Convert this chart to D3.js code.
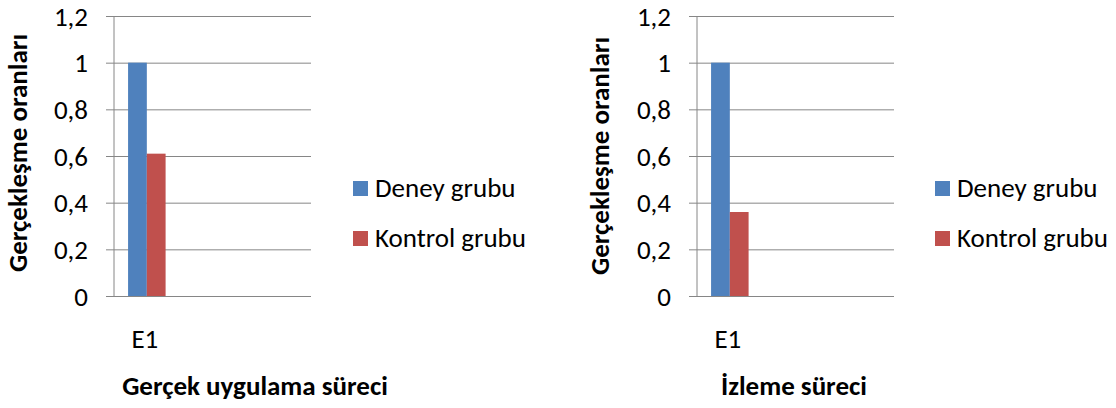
<!DOCTYPE html>
<html>
<head>
<meta charset="utf-8">
<script src="https://cdn.jsdelivr.net/npm/d3@7"></script>
<style>
  html, body { margin: 0; padding: 0; background: #fff; }
  svg { display: block; }
  text { font-family: Carlito, Lato, "Open Sans", sans-serif; fill: #000; }
</style>
</head>
<body>
<svg id="chart" width="1116" height="408"></svg>
<script>
// ---- data ----
const categories = ["E1"];
const seriesNames = ["Deney grubu", "Kontrol grubu"];
const seriesColors = ["#4F81BD", "#C0504D"];
const panelTitles = ["Gerçek uygulama süreci", "İzleme süreci"];
const panel1Values = [1.0, 0.61];   // Deney, Kontrol at E1
const panel2Values = [1.0, 0.36];   // Deney, Kontrol at E1
const yTickValues = [0, 0.2, 0.4, 0.6, 0.8, 1.0, 1.2];
const yTickLabels = ["0", "0,2", "0,4", "0,6", "0,8", "1", "1,2"];
const yAxisTitle = "Gerçekleşme oranları";

// ---- layout ----
const svg = d3.select("#chart");
const slotCount = 3;
const panels = [
  { x0: 114, values: panel1Values, title: panelTitles[0], titleX: 255, yTitleX: 27, yTitleY: 153, legendX: 353 },
  { x0: 697, values: panel2Values, title: panelTitles[1], titleX: 794, yTitleX: 609, yTitleY: 156, legendX: 935 }
];
const plotW = 197, plotTop = 16, plotBottom = 296;

panels.forEach(p => {
  const g = svg.append("g").attr("transform", `translate(${p.x0},0)`);
  const y = d3.scaleLinear().domain([0, 1.2]).range([plotBottom, plotTop]);
  const x = d3.scaleBand().domain(d3.range(slotCount)).range([0, plotW]).padding(0);
  const xs = d3.scaleBand().domain(seriesNames).range([0, x.bandwidth()])
    .paddingInner(0).paddingOuter(0.75);

  // gridlines + ticks
  const yAxis = d3.axisLeft(y).tickValues(yTickValues)
    .tickFormat((d, i) => yTickLabels[i]).tickSizeInner(-plotW).tickSizeOuter(0);
  const ga = g.append("g").call(yAxis);
  ga.attr("font-family", null).attr("font-size", null);
  ga.select(".domain").remove();
  ga.selectAll(".tick line").attr("x1", -8).attr("stroke", "#868686").attr("stroke-width", 1);
  ga.selectAll(".tick text").attr("x", -26).attr("dy", "0.34em")
    .style("font-size", "27px").attr("fill", "#000");

  // bars
  categories.forEach((c, ci) => {
    g.selectAll(null).data(seriesNames).enter().append("rect")
      .attr("x", s => x(ci) + xs(s))
      .attr("width", xs.bandwidth())
      .attr("y", (s, si) => y(p.values[si]))
      .attr("height", (s, si) => y(0) - y(p.values[si]))
      .attr("fill", (s, si) => seriesColors[si]);
    g.append("text").attr("x", x(ci) + x.bandwidth() / 2 - 2).attr("y", 348)
      .attr("text-anchor", "middle").style("font-size", "27px").text(c);
  });

  // vertical axis line
  g.append("line").attr("x1", 0).attr("x2", 0).attr("y1", plotTop).attr("y2", plotBottom)
    .attr("stroke", "#868686").attr("stroke-width", 1);

  // axis titles
  svg.append("text").attr("transform", `translate(${p.yTitleX},${p.yTitleY}) rotate(-90)`)
    .attr("text-anchor", "middle").style("font-size", "27px").style("font-weight", "bold")
    .text(yAxisTitle);
  svg.append("text").attr("x", p.titleX).attr("y", 395).attr("text-anchor", "middle")
    .style("font-size", "27px").style("font-weight", "bold")
    .text(p.title);

  // legend
  const lg = svg.append("g").attr("transform", `translate(${p.legendX},0)`);
  seriesNames.forEach((s, i) => {
    const yy = 181 + i * 50;
    lg.append("rect").attr("x", 0).attr("y", yy).attr("width", 15).attr("height", 15)
      .attr("fill", seriesColors[i]);
    lg.append("text").attr("x", 22).attr("y", yy + 16).style("font-size", "27px").text(s);
  });
});
</script>
</body>
</html>
